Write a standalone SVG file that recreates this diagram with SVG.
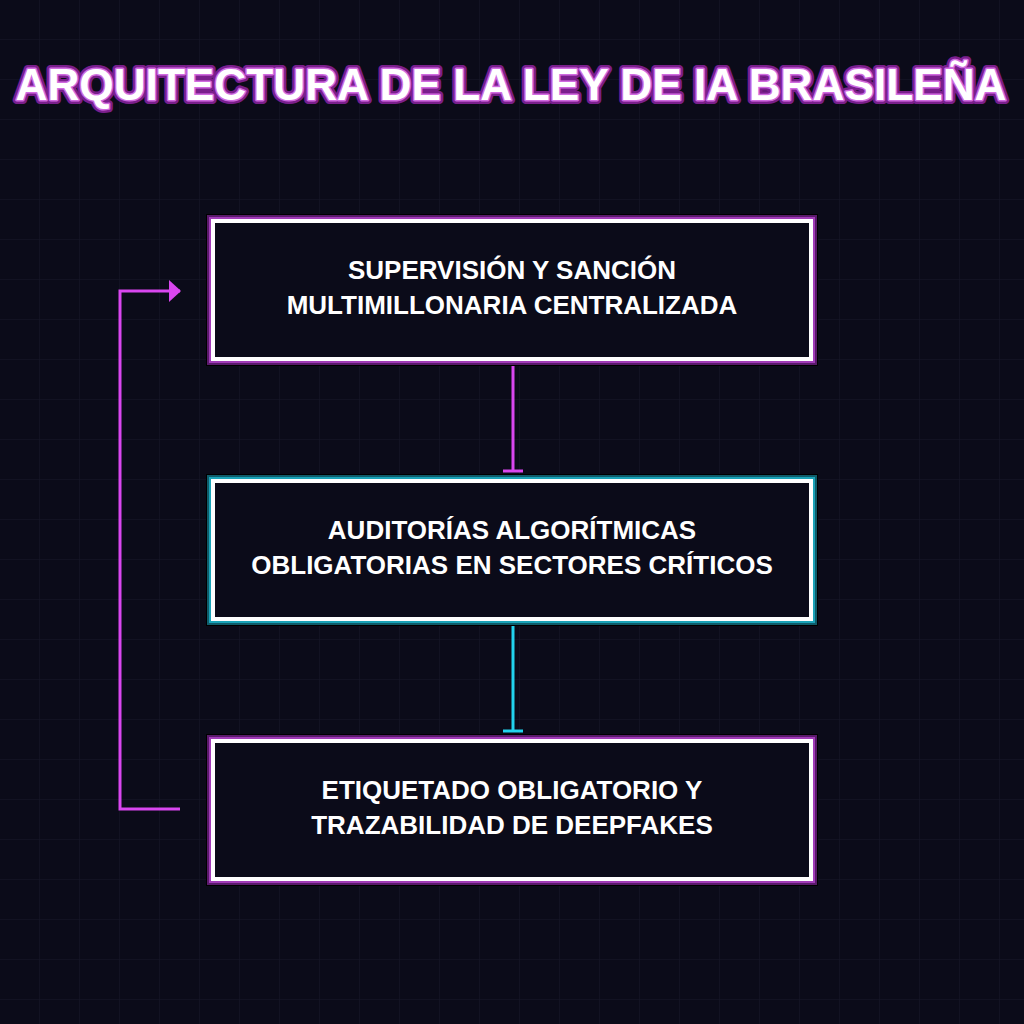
<svg xmlns="http://www.w3.org/2000/svg" width="1024" height="1024" viewBox="0 0 1024 1024">
<defs>
<pattern id="grid" width="40" height="40" patternUnits="userSpaceOnUse"><path d="M40 0V40M0 40H40" fill="none" stroke="#181829" stroke-width="1"/></pattern>
<marker id="ah" markerWidth="12" markerHeight="22" refX="11" refY="11" orient="auto" markerUnits="userSpaceOnUse"><path d="M0 0L12 11L0 22Z" fill="#d946ef"/></marker>
<style>
.t{font-family:"Liberation Sans",Arial,sans-serif;font-weight:bold;fill:#fff;text-anchor:middle}
.bx{fill:#0b0b19;stroke:#fff;stroke-width:4}
</style>
</defs>
<rect width="1024" height="1024" fill="#0b0b19"/>
<rect width="1024" height="1024" fill="url(#grid)"/>
<text x="511" y="100" class="t" font-size="44.2" stroke="#7a1f8c" stroke-width="8" stroke-linejoin="round">ARQUITECTURA DE LA LEY DE IA BRASILEÑA</text>
<text x="511" y="100" class="t" font-size="44.2" stroke="#d06be0" stroke-width="3" stroke-linejoin="round">ARQUITECTURA DE LA LEY DE IA BRASILEÑA</text>
<text x="511" y="100" class="t" font-size="44.2">ARQUITECTURA DE LA LEY DE IA BRASILEÑA</text>
<g id="connectors" fill="none" stroke-width="3">
<path d="M513 360V471M503 471H523" stroke="#d946ef"/>
<path d="M513 620V731M503 731H523" stroke="#22d3ee"/>
<path d="M180 809H120V291H180" stroke="#d946ef" marker-end="url(#ah)"/>
</g>
<g id="n1">
<rect x="206" y="214" width="612" height="152" fill="#000"/>
<rect x="207" y="215" width="610" height="150" fill="#5a1a6b"/>
<rect x="209" y="217" width="606" height="146" fill="#a13bb8"/>
<rect x="213" y="221" width="598" height="138" class="bx"/>
<text class="t" font-size="26" x="512" y="279">SUPERVISIÓN Y SANCIÓN</text>
<text class="t" font-size="26" x="512" y="314">MULTIMILLONARIA CENTRALIZADA</text>
</g>
<g id="n2">
<rect x="206" y="474" width="612" height="152" fill="#000"/>
<rect x="207" y="475" width="610" height="150" fill="#0f5c6b"/>
<rect x="209" y="477" width="606" height="146" fill="#1aa3b8"/>
<rect x="213" y="481" width="598" height="138" class="bx"/>
<text class="t" font-size="26" x="512" y="539">AUDITORÍAS ALGORÍTMICAS</text>
<text class="t" font-size="26" x="512" y="574">OBLIGATORIAS EN SECTORES CRÍTICOS</text>
</g>
<g id="n3">
<rect x="206" y="734" width="612" height="152" fill="#000"/>
<rect x="207" y="735" width="610" height="150" fill="#5a1a6b"/>
<rect x="209" y="737" width="606" height="146" fill="#a13bb8"/>
<rect x="213" y="741" width="598" height="138" class="bx"/>
<text class="t" font-size="26" x="512" y="799">ETIQUETADO OBLIGATORIO Y</text>
<text class="t" font-size="26" x="512" y="834">TRAZABILIDAD DE DEEPFAKES</text>
</g>
</svg>
